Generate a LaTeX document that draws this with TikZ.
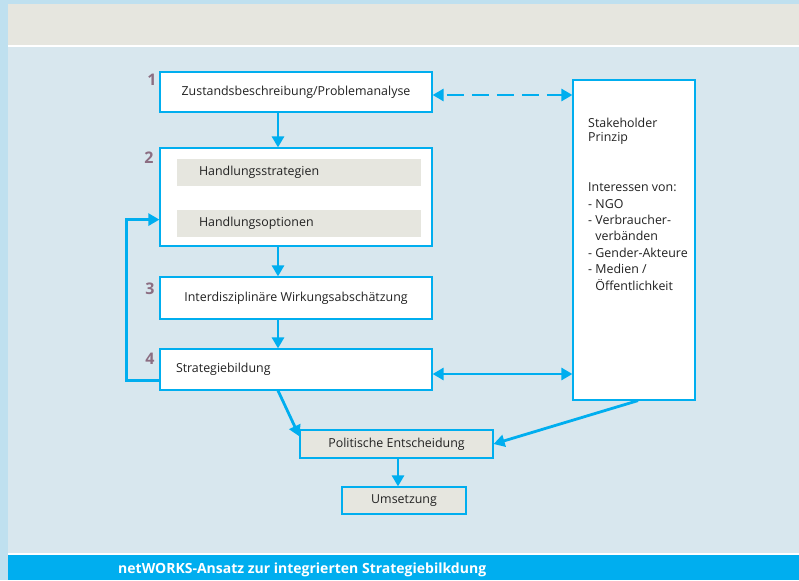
\documentclass[tikz,border=0pt]{standalone}
\usepackage{fontspec}
\setmainfont{Open Sans}
\usetikzlibrary{arrows.meta,calc}
\definecolor{outerblue}{HTML}{BFE0EF}
\definecolor{beige}{HTML}{E6E6DF}
\definecolor{mainbg}{HTML}{D8E7EE}
\definecolor{cyanc}{HTML}{00AEEF}
\definecolor{numc}{HTML}{8C6E82}
\definecolor{txt}{HTML}{222222}
\tikzset{
  box/.style={draw=cyanc, line width=1.2pt, fill=white, inner sep=0pt, text=txt, font=\fontsize{12.4}{14}\selectfont},
  bar/.style={fill=beige, inner sep=0pt, text=txt, font=\fontsize{12.4}{14}\selectfont, align=left},
  gbox/.style={draw=cyanc, line width=1.2pt, fill=beige, inner sep=0pt, text=txt, font=\fontsize{12.4}{14}\selectfont},
  num/.style={text=numc, font=\fontsize{16}{16}\selectfont\bfseries, inner sep=0pt},
  conn/.style={draw=cyanc, line width=2.8pt, -{Triangle[length=11pt,width=12pt]}},
  bconn/.style={draw=cyanc, line width=2.8pt, {Triangle[length=11pt,width=12pt]}-{Triangle[length=11pt,width=12pt]}},
}
\begin{document}
\begin{tikzpicture}[x=1pt,y=-1pt]
\useasboundingbox (0,0) rectangle (799,580);
\fill[outerblue] (0,0) rectangle (799,580);
\fill[beige] (8,4) rectangle (799,45);
\fill[white] (8,45) rectangle (799,555);
\fill[mainbg] (8,47) rectangle (799,553);
\fill[cyanc] (8,555) rectangle (799,580);

\node[box, minimum width=272pt, minimum height=40pt] (b1) at (296,92) {Zustandsbeschreibung/Problemanalyse};
\node[box, minimum width=272pt, minimum height=98pt] (b2) at (296,197) {};
\node[bar, minimum width=244pt, minimum height=27pt, text width=200pt, inner xsep=22pt] (h1) at (299,172.5) {Handlungsstrategien};
\node[bar, minimum width=244pt, minimum height=27pt, text width=200pt, inner xsep=22pt] (h2) at (299,223.5) {Handlungsoptionen};
\node[box, minimum width=272pt, minimum height=42pt] (b3) at (296,298) {Interdisziplinäre Wirkungsabschätzung};
\node[box, minimum width=272pt, minimum height=41pt, text width=240pt, inner xsep=16pt, align=left] (b4) at (296,369.5) {Strategiebildung};
\node[box, minimum width=122pt, minimum height=320pt] (st) at (634,240) {};
\node[anchor=north west, inner sep=0pt, text=txt, align=left, font=\fontsize{12.4}{14}\selectfont] (sttext) at (588,118) {Stakeholder\\Prinzip\\[36pt]Interessen von:\\[2.4pt]- NGO\\[2.4pt]- Verbraucher-\\[2.4pt]\hphantom{- }verbänden\\[2.4pt]- Gender-Akteure\\[2.4pt]- Medien /\\[2.4pt]\hphantom{- }Öffentlichkeit};
\node[gbox, minimum width=193pt, minimum height=28pt] (pe) at (396.5,444) {Politische Entscheidung};
\node[gbox, minimum width=124pt, minimum height=27pt] (um) at (404,500.5) {Umsetzung};

\node[num] (n1) at (152,80) {1};
\node[num] (n2) at (149,158) {2};
\node[num] (n3) at (150,289) {3};
\node[num] (n4) at (150,359) {4};

\draw[conn] (b1.south -| 278,0) -- (b2.north -| 278,0);
\draw[conn] (b2.south -| 278,0) -- (b3.north -| 278,0);
\draw[conn] (b3.south -| 278,0) -- (b4.north -| 278,0);
\draw[conn] ($(b4.south west)+(0,-10)$) -- ++(-33,0) |- ($(b2.south west)+(0,-27)$);
\draw[bconn, dash pattern=on 17pt off 8pt, dash phase=-4pt] ([yshift=-3pt]b1.east) -- ([yshift=-3pt]b1.east -| st.west);
\draw[bconn] ([yshift=-4.5pt]b4.east) -- ([yshift=-4.5pt]b4.east -| st.west);
\draw[conn] ($(b4.south)+(-18,0)$) -- ($(pe.north west)+(0,7)$);
\draw[conn] ($(st.south)+(4,0)$) -- (pe.east);
\draw[conn] (pe.south -| 398,0) -- (um.north -| 398,0);

\node[anchor=base west, inner sep=0pt, text=white, font=\fontsize{14}{14}\selectfont\bfseries] (cap) at (118,573.5) {netWORKS-Ansatz zur integrierten Strategiebilkdung};
\end{tikzpicture}
\end{document}
